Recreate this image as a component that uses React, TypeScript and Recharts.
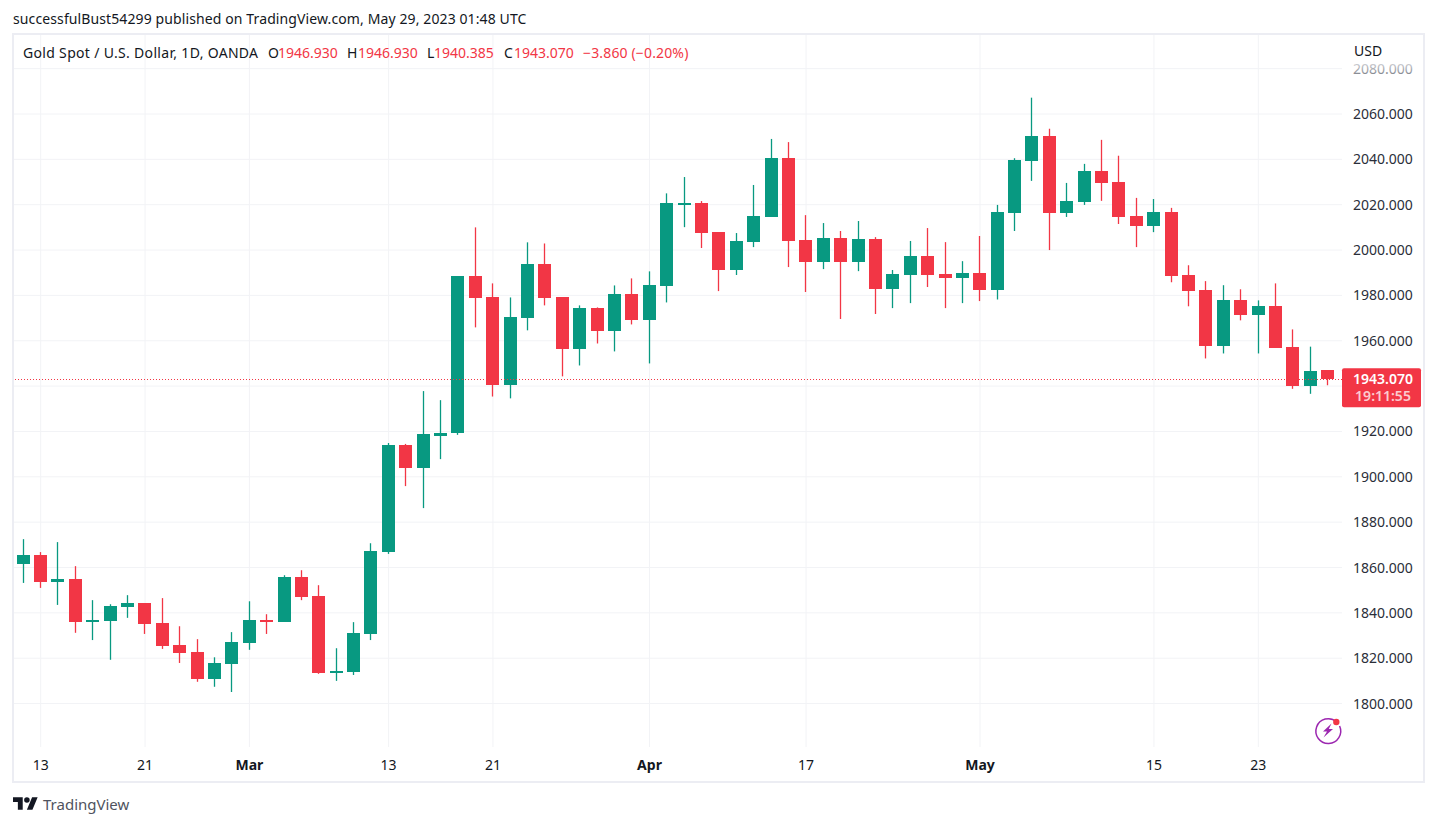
// Gold spot daily candles, TradingView look. Body + wick are drawn from a [low, high] range bar.
import { Bar, CartesianGrid, ComposedChart, ReferenceLine, XAxis, YAxis } from "recharts";

const GREEN = "#089981";
const RED = "#f23645";
const TEXT = "#131722";
const GRID = "#f2f3f6";
const FRAME = "#ecedf3";
const FONT = "'Noto Sans', sans-serif";

const dates = [
  "Feb 10", "Feb 13", "Feb 14", "Feb 15", "Feb 16", "Feb 17", "Feb 20", "Feb 21", "Feb 22", "Feb 23",
  "Feb 24", "Feb 27", "Feb 28", "Mar 1", "Mar 2", "Mar 3", "Mar 6", "Mar 7", "Mar 8", "Mar 9",
  "Mar 10", "Mar 13", "Mar 14", "Mar 15", "Mar 16", "Mar 17", "Mar 20", "Mar 21", "Mar 22", "Mar 23",
  "Mar 24", "Mar 27", "Mar 28", "Mar 29", "Mar 30", "Mar 31", "Apr 3", "Apr 4", "Apr 5", "Apr 6",
  "Apr 7", "Apr 10", "Apr 11", "Apr 12", "Apr 13", "Apr 17", "Apr 18", "Apr 19", "Apr 20", "Apr 21",
  "Apr 24", "Apr 25", "Apr 26", "Apr 27", "Apr 28", "May 1", "May 2", "May 3", "May 4", "May 5",
  "May 8", "May 9", "May 10", "May 11", "May 12", "May 15", "May 16", "May 17", "May 18", "May 19",
  "May 22", "May 23", "May 24", "May 25", "May 26", "May 29",
];
const opens = [
  1861.6, 1865.4, 1853.7, 1854.9, 1836, 1836.5, 1842.6, 1844.3, 1835.4, 1825.7,
  1822.6, 1810.9, 1817.5, 1826.8, 1836.8, 1836, 1855.7, 1847.4, 1813.5, 1814,
  1830.7, 1867, 1914, 1903.9, 1918.2, 1919.3, 1988.4, 1979.1, 1940.3, 1969.9,
  1993.7, 1979.1, 1956.2, 1974.3, 1964.1, 1980.4, 1969, 1984, 2020.3, 2020.7,
  2007.9, 1991.2, 2003.5, 2014.6, 2040.6, 2004.4, 1994.7, 2005.3, 1994.7, 2004.9,
  1982.8, 1989, 1997.4, 1989.4, 1987.6, 1989.9, 1982.4, 2016.3, 2039.4, 2050.4,
  2016.3, 2021.2, 2034.9, 2030, 2015, 2010.6, 2016.8, 1988.9, 1982.3, 1957.5,
  1977.8, 1971.2, 1975.2, 1957.4, 1940.2, 1946.93,
];
const highs = [
  1872.5, 1866.8, 1871.2, 1860.6, 1845.6, 1843.8, 1847.8, 1844.3, 1846.5, 1834.1,
  1828.4, 1820.4, 1831.5, 1845.1, 1839.4, 1856.6, 1858.8, 1852.2, 1824.4, 1835.9,
  1870.7, 1914.9, 1914.5, 1937.8, 1933.8, 1988.4, 2010, 1985.3, 1979.1, 2003.4,
  2002.9, 1979.1, 1975.6, 1974.7, 1984.4, 1987.5, 1990.6, 2025, 2032.2, 2021.6,
  2007.9, 2007.5, 2028.7, 2049, 2047.6, 2015.4, 2011.9, 2008.4, 2012.8, 2005.7,
  1991.2, 2004, 2009.7, 2003.5, 1995.1, 2006.2, 2019.9, 2040.5, 2067.2, 2053.5,
  2029.6, 2038, 2048.6, 2041.6, 2023, 2022.5, 2018.6, 1993.3, 1986.3, 1984.5,
  1982.7, 1977.8, 1985.3, 1965, 1957.4, 1946.93,
];
const lows = [
  1853.2, 1851, 1843.5, 1831.2, 1828, 1819.3, 1837.8, 1830.7, 1824.1, 1817.9,
  1809.6, 1807.4, 1805.1, 1823.7, 1830.7, 1836, 1845.6, 1813.1, 1810, 1812.6,
  1828, 1866, 1895.9, 1886.2, 1907.8, 1918.5, 1965.9, 1935.4, 1934.6, 1964.6,
  1975.6, 1944.3, 1949.1, 1958.8, 1955.3, 1967.2, 1950, 1976.9, 2010.1, 2000.9,
  1981.9, 1989, 2001.3, 2014.6, 1992.5, 1981.5, 1991.6, 1969.6, 1990.7, 1971.8,
  1974.4, 1976.6, 1983.7, 1974.4, 1976.6, 1977.5, 1978.2, 2008.4, 2030.5, 2000,
  2014.6, 2019.9, 2021.7, 2011.5, 2001.3, 2007.9, 1985.8, 1975.2, 1952.2, 1954.4,
  1969, 1954.4, 1957, 1938.8, 1936.6, 1940.385,
];
const closes = [
  1865.4, 1853.7, 1854.9, 1836, 1836.8, 1842.9, 1844.3, 1835.1, 1825.4, 1822.4,
  1810.9, 1817.8, 1827.1, 1836.8, 1836, 1855.7, 1847.1, 1813.5, 1814.3, 1831,
  1867.2, 1914, 1903.9, 1918.8, 1919.5, 1988.4, 1978.7, 1940.3, 1970.3, 1993.7,
  1978.7, 1956.2, 1974.3, 1964.1, 1980.4, 1969, 1984.4, 2020.6, 2020.7, 2007.5,
  1991.2, 2004, 2015, 2040.6, 2004, 1994.7, 2005.3, 1994.7, 2004.9, 1982.8,
  1989.4, 1997.4, 1989, 1987.6, 1989.9, 1982.4, 2016.8, 2039.8, 2050.4, 2016.3,
  2021.7, 2034.9, 2029.6, 2014.6, 2010.6, 2016.8, 1988.5, 1981.8, 1957.5, 1977.8,
  1971.2, 1975.2, 1957, 1940.2, 1946.8, 1943.07,
];

const priceTicks = [1800, 1820, 1840, 1860, 1880, 1900, 1920, 1940, 1960, 1980, 2000, 2020, 2040, 2060, 2080];
const timeTicks = ["Feb 13", "Feb 21", "Mar 1", "Mar 13", "Mar 21", "Apr 3", "Apr 17", "May 1", "May 15", "May 23"];
const timeLabels = ["13", "21", "Mar", "13", "21", "Apr", "17", "May", "15", "23"];
const lastClose = 1943.07;

const data = dates.map((date, i) => ({
  date,
  open: opens[i],
  high: highs[i],
  low: lows[i],
  close: closes[i],
  range: [lows[i], highs[i]],
}));

// the bar covers low..high, so open and close are placed on the same px-per-dollar
function Candle(props: any) {
  const { x, y, height, payload } = props;
  const { open, high, low, close } = payload;
  const perUnit = Math.abs(height) / (high - low);
  const top = y + (high - Math.max(open, close)) * perUnit;
  const bottom = y + (high - Math.min(open, close)) * perUnit;
  const col = close >= open ? GREEN : RED;
  const left = Math.round(x);
  const bodyTop = Math.round(top);
  return (
    <g>
      <rect x={left + 5.85} y={y} width={1.3} height={Math.abs(height)} fill={col} />
      <rect
        x={left}
        y={bodyTop}
        width={13}
        height={Math.max(2, Math.round(bottom) - bodyTop)}
        fill={col}
        shapeRendering="crispEdges"
      />
    </g>
  );
}

function PriceTick({ x, y, payload }: any) {
  if (payload.value === 1940) return <g />; // hidden under the last-price tag
  return (
    <text
      x={x}
      y={y + 5}
      fontFamily={FONT}
      fontSize={14}
      fill={payload.value === 2080 ? "url(#fadeTick)" : "#2a2e39"}
      textAnchor="start"
    >
      {payload.value.toFixed(3)}
    </text>
  );
}

function TimeTick({ x, y, payload }: any) {
  const label = timeLabels[timeTicks.indexOf(payload.value)];
  const isMonth = /[A-Z]/.test(label);
  return (
    <text x={x} y={y + 23} fontFamily={FONT} fontSize={14} fontWeight={isMonth ? 700 : 400} fill={TEXT} textAnchor="middle">
      {label}
    </text>
  );
}

function PriceTag({ viewBox }: any) {
  const x = viewBox.x + viewBox.width;
  const y = viewBox.y;
  return (
    <g fontFamily={FONT} fontSize={14} textAnchor="middle">
      <rect x={x} y={y - 11} width={79} height={39} rx={2} fill={RED} />
      <text x={x + 41} y={y + 5} fill="#fff" fontWeight={600}>{lastClose.toFixed(3)}</text>
      <text x={x + 41} y={y + 22} fill="#fff" fillOpacity={0.75} fontWeight={600}>19:11:55</text>
    </g>
  );
}

const legend = [
  { text: "O", left: 268, color: TEXT },
  { text: "1946.930", left: 278, color: RED },
  { text: "H", left: 347, color: TEXT },
  { text: "1946.930", left: 358, color: RED },
  { text: "L", left: 427, color: TEXT },
  { text: "1940.385", left: 434, color: RED },
  { text: "C", left: 504, color: TEXT },
  { text: "1943.070", left: 514, color: RED },
  { text: "\u22123.860 (\u22120.20%)", left: 583, color: RED, spacing: 0.15 },
];

function Label({ left, top, color = TEXT, size = 14, spacing = 0, children }: any) {
  return (
    <div style={{ position: "absolute", left, top, color, fontSize: size, lineHeight: "20px", letterSpacing: spacing, whiteSpace: "nowrap" }}>
      {children}
    </div>
  );
}

export default function App() {
  return (
    <div style={{ position: "absolute", left: 0, top: 0, width: 1437, height: 826, background: "#fff", overflow: "hidden", fontFamily: FONT }}>
      <div style={{ position: "absolute", left: 12, top: 33, width: 1413, height: 750, boxSizing: "border-box", border: `2px solid ${FRAME}` }} />
      <div style={{ position: "absolute", left: 0, top: 0 }}>
        <ComposedChart width={1437} height={826} data={data} margin={{ top: 35, right: 0, bottom: 0, left: 14 }}>
          <defs>
            <linearGradient id="fadeTick" x1="0" y1="0" x2="0" y2="1">
              <stop offset="0.2" stopColor="#d4d5d9" />
              <stop offset="0.9" stopColor="#7c7f87" />
            </linearGradient>
          </defs>
          <CartesianGrid stroke={GRID} syncWithTicks />
          <XAxis
            dataKey="date"
            ticks={timeTicks}
            interval={0}
            height={79}
            padding={{ left: 0.6, right: 5.4 }}
            axisLine={false}
            tickLine={false}
            tickSize={0}
            tickMargin={0}
            tick={<TimeTick />}
          />
          <YAxis
            orientation="right"
            width={95}
            domain={[1780.84, 2094.84]}
            ticks={priceTicks}
            interval={0}
            allowDataOverflow
            axisLine={false}
            tickLine={false}
            tickSize={0}
            tickMargin={11}
            tick={<PriceTick />}
          />
          <ReferenceLine y={lastClose} stroke={RED} strokeDasharray="1 2" shapeRendering="crispEdges" label={<PriceTag />} />
          <Bar dataKey="range" barSize={13} isAnimationActive={false} shape={<Candle />} />
        </ComposedChart>
      </div>

      <Label left={13} top={9} spacing={0.11}>successfulBust54299 published on TradingView.com, May 29, 2023 01:48 UTC</Label>
      <Label left={23} top={43} spacing={0.32}>Gold Spot / U.S. Dollar, 1D, OANDA</Label>
      {legend.map((l, i) => (
        <Label key={i} left={l.left} top={43} color={l.color} spacing={l.spacing}>{l.text}</Label>
      ))}
      <Label left={1354} top={41}>USD</Label>

      <svg style={{ position: "absolute", left: 13, top: 797 }} width={25} height={13} viewBox="0 4 36 18">
        <path d="M14 22H7V11H0V4h14v18zM28 22h-8l7.5-18h8L28 22z" fill={TEXT} />
        <circle cx={20} cy={8} r={4} fill={TEXT} />
      </svg>
      <Label left={43} top={794} color="#50535e" size={15}>TradingView</Label>

      <svg style={{ position: "absolute", left: 1312, top: 715 }} width={32} height={32} viewBox="0 0 32 32">
        <path d="M24.5 6.8 A12.4 12.4 0 1 0 27.6 11" fill="none" stroke="#9c27b0" strokeWidth={1.5} />
        <path d="M19.5 8.5 L11 16.6 L15 16.6 L11.5 22.5 L21 14 L16.8 14 Z" fill="#9c27b0" />
        <circle cx={24.3} cy={7} r={3.2} fill={RED} />
      </svg>
    </div>
  );
}
